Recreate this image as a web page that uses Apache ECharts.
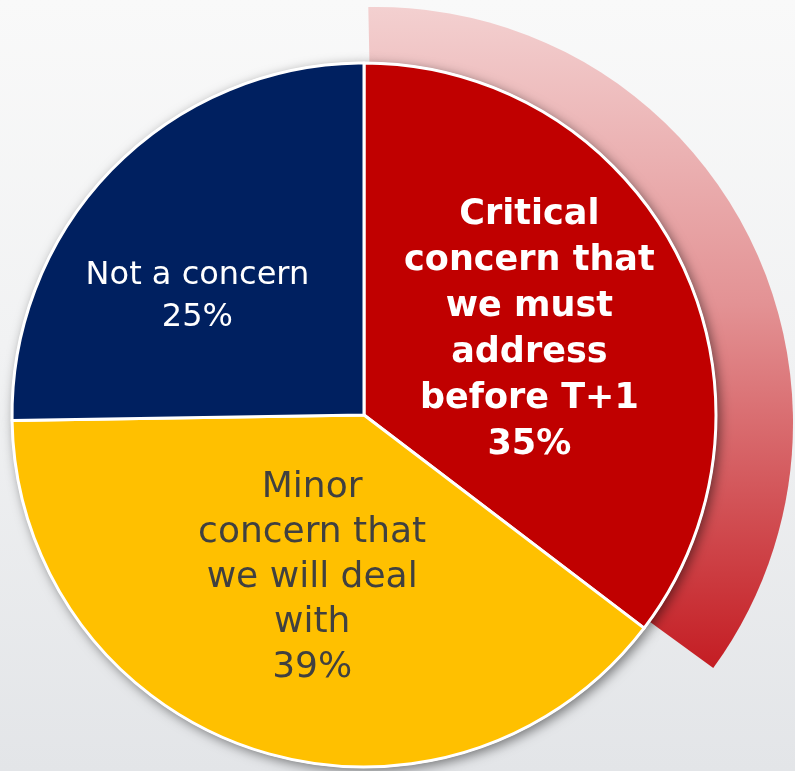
<!DOCTYPE html>
<html>
<head>
<meta charset="utf-8">
<style>
  html, body { margin: 0; padding: 0; width: 795px; height: 771px; overflow: hidden; }
  #chart { width: 795px; height: 771px; }
</style>
<script src="https://cdn.jsdelivr.net/npm/echarts@6/dist/echarts.min.js"></script>
</head>
<body>
<div id="chart"></div>
<script>
// Survey response shares (percent)
const categories = [
  'Critical\nconcern that\nwe must\naddress\nbefore T+1',
  'Minor\nconcern that\nwe will deal\nwith',
  'Not a concern'
];
const values = [35, 39, 25];
const colors = ['#c00000', '#ffc000', '#002060'];

const chart = echarts.init(document.getElementById('chart'), null, { renderer: 'canvas' });

const CENTER = [364, 415];
const R = 352;

// Per-slice label styling
const labelStyles = [
  { show: true, color: '#ffffff', fontWeight: 'bold', fontSize: 35, lineHeight: 46, offset: [5, -6] },
  { show: true, color: '#404040', fontWeight: 'normal', fontSize: 36, lineHeight: 45, offset: [4, -7] },
  { show: true, color: '#ffffff', fontWeight: 'normal', fontSize: 32, lineHeight: 42, offset: [-39, 7] }
];

const mainData = categories.map((name, i) => ({
  name: name,
  value: values[i],
  itemStyle: { color: colors[i] },
  label: labelStyles[i]
}));

// Plain white copy of the pie that only casts the drop shadow
const shadowData = values.map(v => ({ value: v }));

// Highlight band behind the first slice: same values so the angles line up
const ringData = values.map((v, i) => ({
  value: v,
  itemStyle: i === 0
    ? { color: new echarts.graphic.LinearGradient(0, 0, 0, 1, [
        { offset: 0, color: '#f3d0d0' },
        { offset: 0.45, color: '#e39294' },
        { offset: 1, color: '#c41d23' }
      ]) }
    : { color: 'rgba(0,0,0,0)' }
}));

chart.setOption({
  backgroundColor: new echarts.graphic.LinearGradient(0, 0, 0, 1, [
    { offset: 0, color: '#f9f9f9' },
    { offset: 0.45, color: '#f1f2f3' },
    { offset: 1, color: '#e3e5e8' }
  ]),
  animation: false,
  series: [
    {
      type: 'pie',
      name: 'band',
      silent: true,
      z: 1,
      center: [377, 423],
      radius: [0, 416],
      startAngle: 91.2,
      clockwise: true,
      label: { show: false },
      labelLine: { show: false },
      data: ringData
    },
    {
      type: 'pie',
      name: 'shadow',
      silent: true,
      z: 2,
      center: CENTER,
      radius: [0, R + 1],
      startAngle: 90,
      clockwise: true,
      itemStyle: {
        color: '#ffffff',
        shadowBlur: 12,
        shadowColor: 'rgba(0,0,0,0.5)',
        shadowOffsetX: 3,
        shadowOffsetY: 3
      },
      label: { show: false },
      labelLine: { show: false },
      data: shadowData
    },
    {
      type: 'pie',
      name: 'main',
      z: 3,
      center: CENTER,
      radius: [0, R],
      startAngle: 90,
      clockwise: true,
      avoidLabelOverlap: false,
      labelLayout: { hideOverlap: false },
      itemStyle: {
        borderColor: '#ffffff',
        borderWidth: 3
      },
      label: {
        show: true,
        position: 'inside',
        fontFamily: 'DejaVu Sans',
        align: 'center',
        formatter: p => p.name + '\n' + p.value + '%'
      },
      labelLine: { show: false },
      emphasis: { disabled: true },
      data: mainData
    }
  ]
});
</script>
</body>
</html>
